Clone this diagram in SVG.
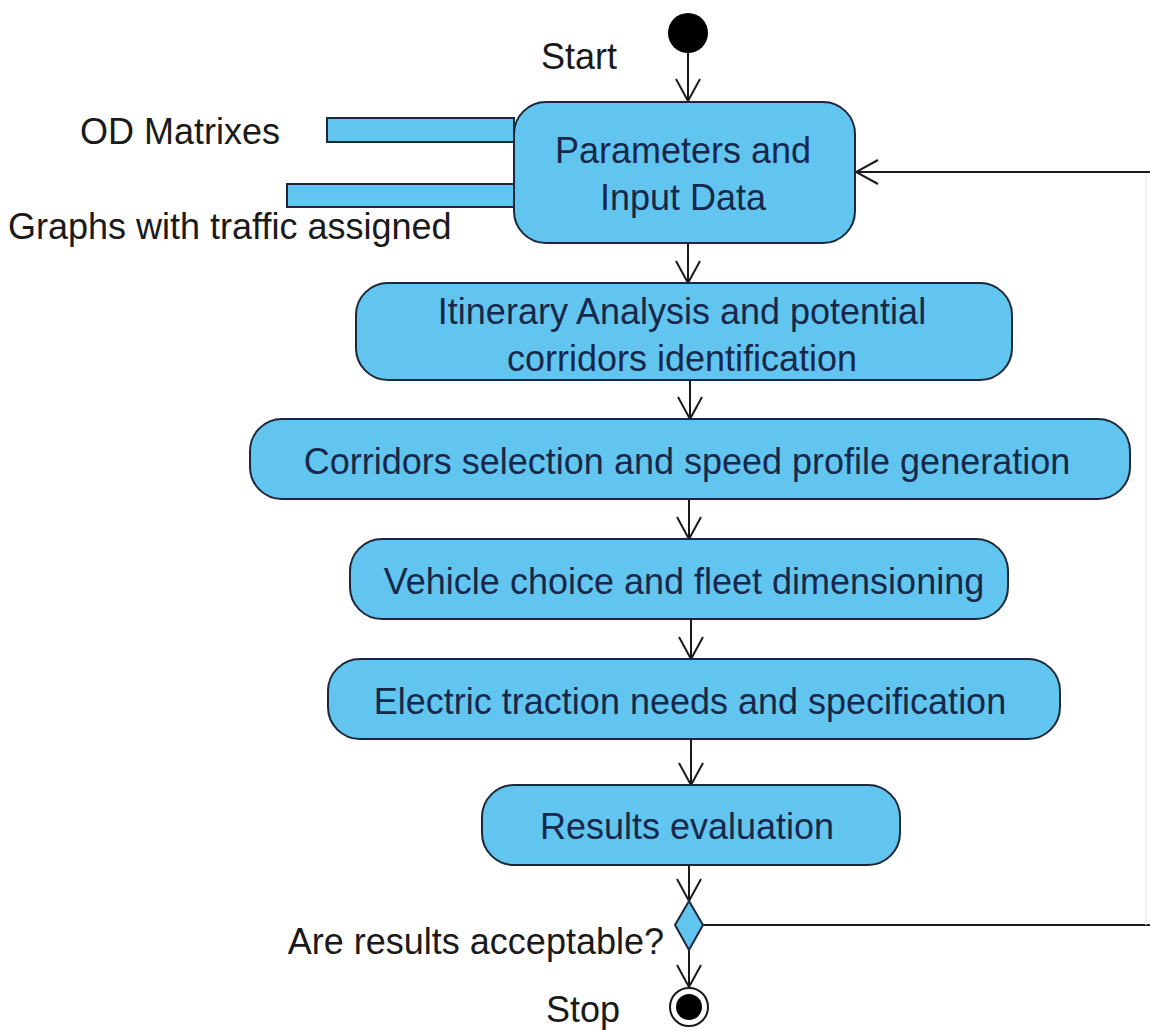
<svg xmlns="http://www.w3.org/2000/svg" width="1150" height="1030" viewBox="0 0 1150 1030">
<defs>
<marker id="arr" viewBox="0 0 26 26" refX="24" refY="13" markerWidth="26" markerHeight="26" markerUnits="userSpaceOnUse" orient="auto">
<path d="M2,1 L24,13 L2,25" fill="none" stroke="#1a1a1a" stroke-width="2"/>
</marker>
<style>
.node{fill:#62c5ef;stroke:#1c2838;stroke-width:2}
.nt{font-family:"Liberation Sans",Arial,sans-serif;font-size:36px;fill:#17284a;text-anchor:middle}
.lbl{font-family:"Liberation Sans",Arial,sans-serif;font-size:36px;fill:#1a1a1a}
.edge{fill:none;stroke:#1a1a1a;stroke-width:2}
</style>
</defs>
<rect width="1150" height="1030" fill="#ffffff"/>
<g id="connectors">
<line class="edge" x1="688" y1="52" x2="688" y2="101" marker-end="url(#arr)"/>
<line class="edge" x1="688" y1="243" x2="688" y2="283" marker-end="url(#arr)"/>
<line class="edge" x1="690" y1="380" x2="690" y2="419" marker-end="url(#arr)"/>
<line class="edge" x1="689" y1="499" x2="689" y2="539" marker-end="url(#arr)"/>
<line class="edge" x1="691" y1="619" x2="691" y2="659" marker-end="url(#arr)"/>
<line class="edge" x1="691" y1="739" x2="691" y2="785" marker-end="url(#arr)"/>
<line class="edge" x1="689" y1="865" x2="689" y2="901" marker-end="url(#arr)"/>
<line class="edge" x1="689" y1="950" x2="689" y2="987" marker-end="url(#arr)"/>
<line class="edge" x1="703" y1="925" x2="1150" y2="925"/>
<line x1="1146" y1="172" x2="1146" y2="925" stroke="#efefef" stroke-width="1.5"/>
<line class="edge" x1="1150" y1="172" x2="856" y2="172" marker-end="url(#arr)"/>
</g>
<g id="start">
<circle cx="688" cy="33" r="20" fill="#000"/>
<text class="lbl" x="617" y="69" text-anchor="end">Start</text>
</g>
<g id="od-matrixes">
<rect class="node" x="327" y="118" width="187" height="24"/>
<text class="lbl" x="80" y="144">OD Matrixes</text>
</g>
<g id="graphs-traffic">
<rect class="node" x="287" y="184" width="227" height="23"/>
<text class="lbl" x="8" y="239">Graphs with traffic assigned</text>
</g>
<g id="params">
<rect class="node" x="514" y="102" width="341" height="141" rx="32"/>
<text class="nt" x="683" y="163">Parameters and</text>
<text class="nt" x="683" y="210">Input Data</text>
</g>
<g id="itinerary">
<rect class="node" x="356" y="283" width="656" height="97" rx="32"/>
<text class="nt" x="682" y="324">Itinerary Analysis and potential</text>
<text class="nt" x="682" y="371">corridors identification</text>
</g>
<g id="corridors">
<rect class="node" x="250" y="419" width="880" height="80" rx="32"/>
<text class="nt" x="687" y="474">Corridors selection and speed profile generation</text>
</g>
<g id="vehicle">
<rect class="node" x="350" y="539" width="658" height="80" rx="32"/>
<text class="nt" x="684" y="594">Vehicle choice and fleet dimensioning</text>
</g>
<g id="electric">
<rect class="node" x="328" y="659" width="732" height="80" rx="32"/>
<text class="nt" x="690" y="714">Electric traction needs and specification</text>
</g>
<g id="results">
<rect class="node" x="482" y="785" width="418" height="80" rx="32"/>
<text class="nt" x="687" y="839">Results evaluation</text>
</g>
<g id="decision">
<polygon class="node" points="689,901 703,925 689,950 675,925"/>
<text class="lbl" x="664" y="954" text-anchor="end">Are results acceptable?</text>
</g>
<g id="stop">
<circle cx="689" cy="1007" r="19" fill="#fff" stroke="#1a1a1a" stroke-width="2"/>
<circle cx="689" cy="1007" r="13" fill="#000"/>
<text class="lbl" x="620" y="1022" text-anchor="end">Stop</text>
</g>
</svg>
